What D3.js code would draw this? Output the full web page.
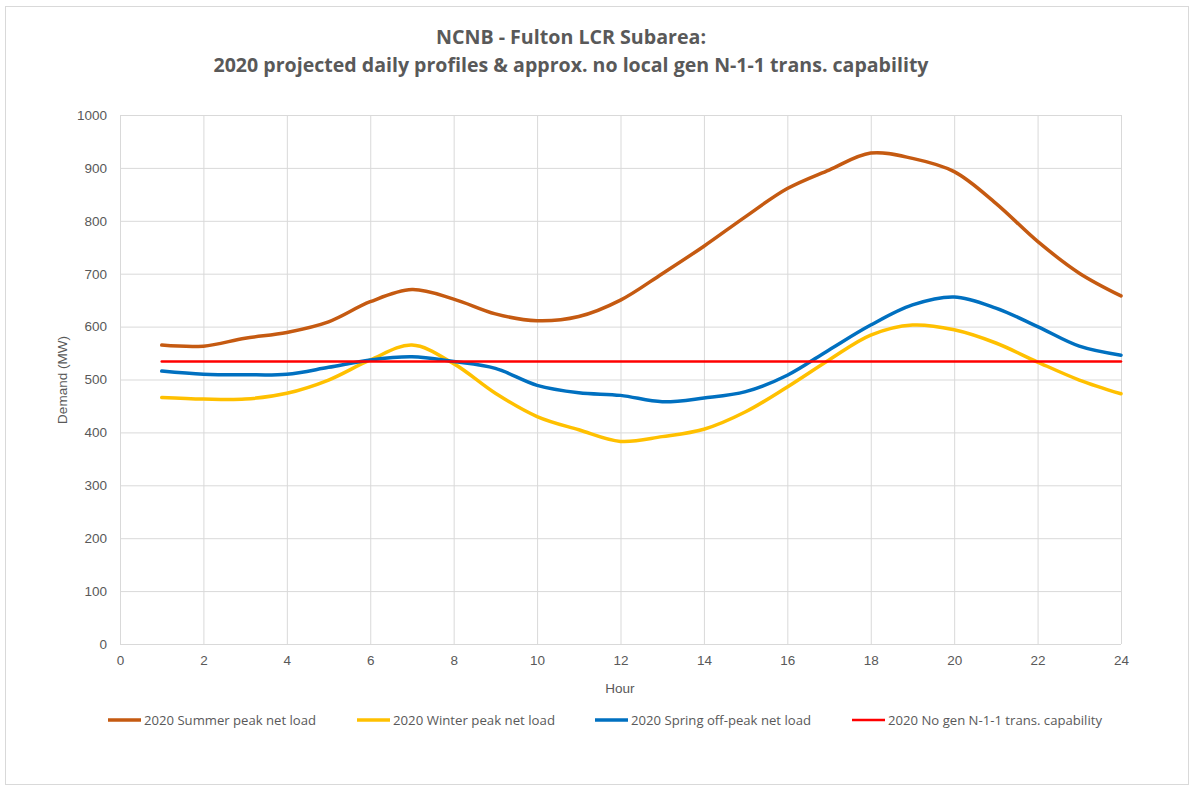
<!DOCTYPE html>
<html>
<head>
<meta charset="utf-8">
<script src="https://cdn.jsdelivr.net/npm/d3@7"></script>
<style>
  body { margin: 0; background: #fff; }
  text { font-family: "Liberation Sans Narrow", "Open Sans", "Liberation Sans", sans-serif; fill: #595959; }
</style>
</head>
<body>
<svg id="chart"></svg>
<script>
const hours = d3.range(1, 25);
const summer = [565, 563, 578, 589, 609, 647, 670, 652, 624, 611, 619, 650, 700, 752, 808, 861, 896, 928, 918, 893, 833, 761, 701, 658];
const winter = [466, 463, 463, 474, 499, 537, 565, 530, 474, 430, 405, 383, 392, 406, 439, 486, 537, 584, 603, 594, 569, 533, 499, 473];
const spring = [516, 510, 509, 510, 523, 537, 543, 534, 521, 489, 475, 470, 458, 465, 477, 508, 556, 603, 641, 656, 635, 600, 563, 546];
const capability = hours.map(() => 534);
const xTicks = d3.range(0, 25, 2);
const yTicks = d3.range(0, 1001, 100);
const titleLines = ['NCNB - Fulton LCR Subarea:', '2020 projected daily profiles & approx. no local gen N-1-1 trans. capability'];

const series = [
  {name: '2020 Summer peak net load', values: summer, color: '#C55A11', w: 3.5},
  {name: '2020 Winter peak net load', values: winter, color: '#FFC000', w: 3.5},
  {name: '2020 Spring off-peak net load', values: spring, color: '#0070C0', w: 3.5},
  {name: '2020 No gen N-1-1 trans. capability', values: capability, color: '#FF0000', w: 2.5},
];

const width = 1193, height = 787;
const margin = {left: 120, right: 72, top: 115, bottom: 143};
const innerW = width - margin.left - margin.right;
const innerH = height - margin.top - margin.bottom;

const svg = d3.select('#chart')
  .attr('width', width)
  .attr('height', height);

svg.append('rect')
  .attr('x', 5.5).attr('y', 6.5)
  .attr('width', 1183).attr('height', 778)
  .attr('fill', '#fff')
  .attr('stroke', '#d9d9d9');

// title
svg.append('g').selectAll('text')
  .data(titleLines)
  .join('text')
    .attr('x', 571)
    .attr('y', (_, i) => 44 + i * 28)
    .attr('text-anchor', 'middle')
    .attr('font-size', 20)
    .attr('font-weight', 'bold')
    .attr('textLength', (_, i) => i === 0 ? 270 : 715)
    .attr('lengthAdjust', 'spacingAndGlyphs')
    .text(d => d);

const g = svg.append('g')
  .attr('transform', `translate(${margin.left}, ${margin.top})`);

const xScale = d3.scaleLinear().domain([0, 24]).range([0, innerW]);
const yScale = d3.scaleLinear().domain([0, 1000]).range([innerH, 0]);

// gridlines
g.append('g')
  .call(d3.axisLeft(yScale).tickValues(yTicks).tickSize(-innerW).tickFormat(''))
  .call(s => s.select('.domain').remove())
  .selectAll('.tick line').attr('stroke', '#d9d9d9');

g.append('g')
  .attr('transform', `translate(0, ${innerH})`)
  .call(d3.axisBottom(xScale).tickValues(xTicks).tickSize(-innerH).tickFormat(''))
  .call(s => s.select('.domain').remove())
  .selectAll('.tick line').attr('stroke', '#d9d9d9');

// axis labels
const yAxis = g.append('g')
  .call(d3.axisLeft(yScale).tickValues(yTicks).tickSize(0).tickPadding(13).tickFormat(d3.format('d')));
yAxis.select('.domain').remove();
yAxis.selectAll('text').attr('font-size', 13.5).attr('fill', '#595959')
  .style('font-family', '"Liberation Sans", sans-serif');

const xAxis = g.append('g')
  .attr('transform', `translate(0, ${innerH})`)
  .call(d3.axisBottom(xScale).tickValues(xTicks).tickSize(0).tickPadding(11));
xAxis.select('.domain').remove();
xAxis.selectAll('text').attr('font-size', 13.5).attr('fill', '#595959')
  .style('font-family', '"Liberation Sans", sans-serif');

svg.append('text')
  .attr('transform', 'translate(67, 380) rotate(-90)')
  .attr('text-anchor', 'middle')
  .attr('font-size', 13.5)
  .style('font-family', '"Liberation Sans", sans-serif')
  .text('Demand (MW)');

svg.append('text')
  .attr('x', 620).attr('y', 693)
  .attr('text-anchor', 'middle')
  .attr('font-size', 13.5)
  .style('font-family', '"Liberation Sans", sans-serif')
  .text('Hour');

// lines
const line = d3.line()
  .x((_, i) => xScale(hours[i]))
  .y(d => yScale(d))
  .curve(d3.curveCatmullRom.alpha(0.5));

g.append('g').selectAll('path')
  .data(series)
  .join('path')
    .attr('fill', 'none')
    .attr('stroke', d => d.color)
    .attr('stroke-width', d => d.w)
    .attr('stroke-linecap', 'round')
    .attr('d', d => line(d.values));

// legend
const legendX = [108, 357, 595, 852];
const legendW = [172, 162, 180, 214];
const legend = svg.append('g').selectAll('g')
  .data(series)
  .join('g')
    .attr('transform', (_, i) => `translate(${legendX[i]}, 720)`);

legend.append('line')
  .attr('x1', 0).attr('x2', 33)
  .attr('stroke', d => d.color)
  .attr('stroke-width', d => d.w);

legend.append('text')
  .attr('x', 36).attr('y', 5)
  .attr('font-size', 13)
  .attr('textLength', (_, i) => legendW[i])
  .attr('lengthAdjust', 'spacingAndGlyphs')
  .text(d => d.name);
</script>
</body>
</html>
